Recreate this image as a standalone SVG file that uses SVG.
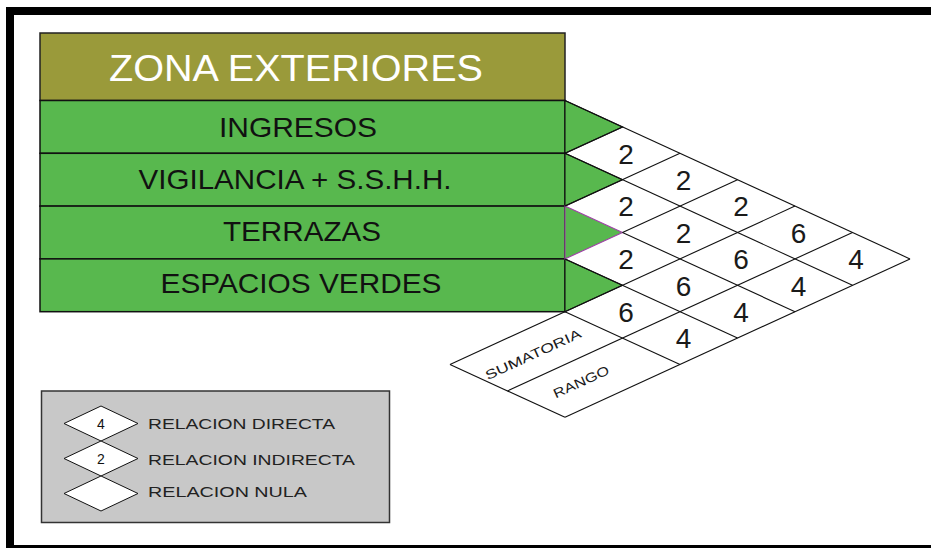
<svg xmlns="http://www.w3.org/2000/svg" width="931" height="548" viewBox="0 0 931 548">
<style>
  text { font-family: "Liberation Sans", Arial, sans-serif; }
  .row { fill: #58b84e; stroke: #111; stroke-width: 1.5; }
  .tri { fill: #58b84e; stroke: #111; stroke-width: 1.1; stroke-linejoin: miter; }
  .rowtxt { font-size: 28px; fill: #111; text-anchor: middle; }
  .grid { stroke: #111; stroke-width: 1.1; fill: none; }
  .val { font-size: 28px; fill: #1a1a1a; text-anchor: middle; }
  .lbl { font-size: 13px; fill: #1a1a1a; text-anchor: middle; }
  .leg { font-size: 14px; fill: #222; }
  .dia { fill: #fff; stroke: #111; stroke-width: 1; }
</style>
<rect x="0" y="0" width="931" height="548" fill="#fff"/>
<rect id="frame" x="10" y="11" width="940" height="538" fill="none" stroke="#000" stroke-width="8"/>

<g id="header">
  <rect x="40" y="33" width="525" height="67.5" fill="#9a9a3a" stroke="#222" stroke-width="1.5"/>
  <text x="296" y="81" font-size="36" fill="#fff" text-anchor="middle" textLength="374" lengthAdjust="spacingAndGlyphs">ZONA EXTERIORES</text>
</g>

<g id="row-ingresos">
  <rect class="row" x="40" y="100.5" width="525" height="52.8"/>
  <text class="rowtxt" x="298" y="136.7" textLength="158" lengthAdjust="spacingAndGlyphs">INGRESOS</text>
</g>
<g id="row-vigilancia">
  <rect class="row" x="40" y="153.3" width="525" height="52.8"/>
  <text class="rowtxt" x="295" y="189" textLength="313" lengthAdjust="spacingAndGlyphs">VIGILANCIA + S.S.H.H.</text>
</g>
<g id="row-terrazas">
  <rect class="row" x="40" y="206.1" width="525" height="52.8"/>
  <text class="rowtxt" x="302" y="240.7" textLength="158" lengthAdjust="spacingAndGlyphs">TERRAZAS</text>
</g>
<g id="row-espacios">
  <rect class="row" x="40" y="258.9" width="525" height="52.8"/>
  <text class="rowtxt" x="301" y="293.3" textLength="281" lengthAdjust="spacingAndGlyphs">ESPACIOS VERDES</text>
</g>

<g id="triangles">
  <polygon class="tri" points="565,100.5 622.5,126.9 565,153.3"/>
  <polygon class="tri" points="565,153.3 622.5,179.7 565,206.1"/>
  <polygon class="tri" points="565,258.9 622.5,285.3 565,311.7"/>
  <polygon class="tri" points="565,206.1 622.5,232.5 565,258.9" style="stroke:#a040a8"/>
</g>

<g id="connectors" class="grid">
  <line x1="565" y1="100.5" x2="910" y2="258.9"/>
  <line x1="565" y1="153.3" x2="852.5" y2="285.3"/>
  <line x1="622.5" y1="232.5" x2="795" y2="311.7"/>
  <line x1="565" y1="258.9" x2="737.5" y2="338.1"/>
  <line x1="565" y1="311.7" x2="680" y2="364.5"/>
  <line x1="450" y1="364.5" x2="565" y2="417.3"/>
  <line x1="622.5" y1="126.9" x2="565" y2="153.3"/>
  <line x1="680" y1="153.3" x2="565" y2="206.1"/>
  <line x1="737.5" y1="179.7" x2="622.5" y2="232.5"/>
  <line x1="795" y1="206.1" x2="450" y2="364.5"/>
  <line x1="852.5" y1="232.5" x2="507.5" y2="390.9"/>
  <line x1="910" y1="258.9" x2="565" y2="417.3"/>
</g>

<g id="values">
  <text class="val" x="626" y="163.5">2</text>
  <text class="val" x="683.5" y="189.9">2</text>
  <text class="val" x="741" y="216.3">2</text>
  <text class="val" x="798.5" y="242.7">6</text>
  <text class="val" x="856" y="269.1">4</text>
  <text class="val" x="626" y="216.3">2</text>
  <text class="val" x="683.5" y="242.7">2</text>
  <text class="val" x="741" y="269.1">6</text>
  <text class="val" x="798.5" y="295.5">4</text>
  <text class="val" x="626" y="269.1">2</text>
  <text class="val" x="683.5" y="295.5">6</text>
  <text class="val" x="741" y="321.9">4</text>
  <text class="val" x="626" y="321.9">6</text>
  <text class="val" x="683.5" y="348.3">4</text>
</g>

<g id="sumatoria">
  <text class="lbl" transform="translate(535,358.5) rotate(-24.66)" textLength="104" lengthAdjust="spacingAndGlyphs">SUMATORIA</text>
</g>
<g id="rango">
  <text class="lbl" transform="translate(583,386) rotate(-24.66)" textLength="60" lengthAdjust="spacingAndGlyphs">RANGO</text>
</g>

<g id="legend">
  <rect x="41.5" y="391" width="348" height="131.5" fill="#c8c8c8" stroke="#333" stroke-width="1.5"/>
  <polygon class="dia" points="64,423.5 101,406 138,423.5 101,441"/>
  <polygon class="dia" points="64,458.5 101,441 138,458.5 101,476"/>
  <polygon class="dia" points="64,493.5 101,476 138,493.5 101,511"/>
  <text x="101" y="428.5" font-size="14" text-anchor="middle" fill="#111">4</text>
  <text x="101" y="463.5" font-size="14" text-anchor="middle" fill="#111">2</text>
  <text class="leg" x="148" y="429.3" textLength="187" lengthAdjust="spacingAndGlyphs">RELACION DIRECTA</text>
  <text class="leg" x="148" y="465" textLength="207" lengthAdjust="spacingAndGlyphs">RELACION INDIRECTA</text>
  <text class="leg" x="148" y="497.3" textLength="159" lengthAdjust="spacingAndGlyphs">RELACION NULA</text>
</g>
</svg>
